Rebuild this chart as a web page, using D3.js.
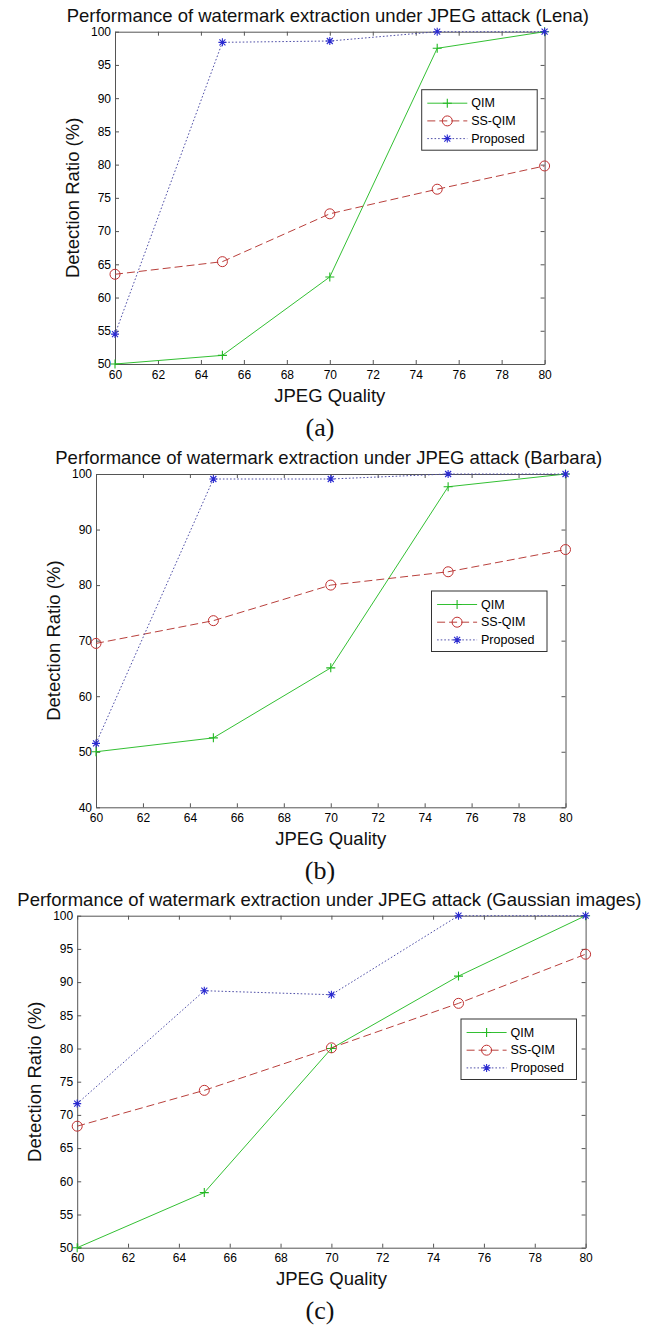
<!DOCTYPE html>
<html>
<head>
  <meta charset="utf-8">
  <script src="https://d3js.org/d3.v7.min.js"></script>
  <style>
    body { margin: 0; background: #ffffff; }
    svg { display: block; font-family: "Liberation Sans", Arial, sans-serif; }
    .tick text { font-size: 12px; fill: #000000; }
    .tick line, .domain { stroke: #555555; }
    .title, .axis_label { font-size: 18.5px; fill: #111111; }
    .panel_label { font-family: "Liberation Serif", "Times New Roman", serif; font-size: 26px; fill: #111111; }
    .legend_label { font-size: 12.5px; fill: #000000; }
  </style>
  <title>JPEG attack</title>
</head>
<body>
  <svg></svg>
  <script>
    // JPEG quality factors on the x axis
    const quality = [60, 65, 70, 75, 80]
    const xTicks = [60, 62, 64, 66, 68, 70, 72, 74, 76, 78, 80]

    // (a) Lena
    const qimLena = [50.0, 51.3, 63.1, 97.5, 100]
    const ssqimLena = [63.5, 65.4, 72.6, 76.3, 79.8]
    const proposedLena = [54.5, 98.4, 98.6, 100, 100]
    const yTicksLena = [50, 55, 60, 65, 70, 75, 80, 85, 90, 95, 100]

    // (b) Barbara
    const qimBarbara = [50.0, 52.5, 65.1, 97.7, 100]
    const ssqimBarbara = [69.5, 73.6, 80.0, 82.4, 86.4]
    const proposedBarbara = [51.5, 99.1, 99.1, 100, 100]
    const yTicksBarbara = [40, 50, 60, 70, 80, 90, 100]

    // (c) Gaussian images
    const qimGaussian = [50.0, 58.3, 80.0, 90.9, 100]
    const ssqimGaussian = [68.3, 73.7, 80.1, 86.8, 94.2]
    const proposedGaussian = [71.7, 88.7, 88.1, 100, 100]
    const yTicksGaussian = [50, 55, 60, 65, 70, 75, 80, 85, 90, 95, 100]

    const seriesNames = ["QIM", "SS-QIM", "Proposed"]

    const styles = [
      {color: "#33c033", markerColor: "#22b822", dash: null, marker: "plus"},
      {color: "#b9403c", markerColor: "#c03030", dash: "8,4", marker: "circle"},
      {color: "#5050a8", markerColor: "#2a2ad0", dash: "1.6,2", marker: "star"}
    ]

    const panels = [
      {
        title: "Performance of watermark extraction under JPEG attack (Lena)",
        label: "(a)",
        yDomain: [50, 100], yTicks: yTicksLena,
        series: [qimLena, ssqimLena, proposedLena],
        box: {left: 115, right: 544.6, top: 31.7, bottom: 364},
        legend: {x: 421.7, y: 89.7}
      },
      {
        title: "Performance of watermark extraction under JPEG attack (Barbara)",
        label: "(b)",
        yDomain: [40, 100], yTicks: yTicksBarbara,
        series: [qimBarbara, ssqimBarbara, proposedBarbara],
        box: {left: 96, right: 565.5, top: 474, bottom: 807.3},
        legend: {x: 431.5, y: 591}
      },
      {
        title: "Performance of watermark extraction under JPEG attack (Gaussian images)",
        label: "(c)",
        yDomain: [50, 100], yTicks: yTicksGaussian,
        series: [qimGaussian, ssqimGaussian, proposedGaussian],
        box: {left: 77.2, right: 585.6, top: 915.7, bottom: 1247.7},
        legend: {x: 461, y: 1019}
      }
    ]

    const svg = d3.select("svg")
      .attr("width", 651)
      .attr("height", 1326)

    function drawMarker(sel, type, color) {
      if (type === "circle") {
        sel.append("circle").attr("r", 5)
          .attr("fill", "none").attr("stroke", color).attr("stroke-width", 1)
      } else {
        const d = type === "plus"
          ? "M-4.5,0H4.5M0,-4.5V4.5"
          : "M-4,0H4M0,-4V4M-3,-3L3,3M-3,3L3,-3"
        sel.append("path").attr("d", d)
          .attr("fill", "none").attr("stroke", color).attr("stroke-width", 1.1)
      }
    }

    panels.forEach(p => {
      const b = p.box
      const x = d3.scaleLinear().domain([60, 80]).range([b.left, b.right])
      const y = d3.scaleLinear().domain(p.yDomain).range([b.bottom, b.top])
      const cx = (b.left + b.right) / 2

      const g = svg.append("g")

      g.append("g")
        .attr("transform", `translate(0,${b.bottom})`)
        .call(d3.axisBottom(x).tickValues(xTicks).tickSize(-4).tickSizeOuter(0).tickPadding(6))
      g.append("g")
        .attr("transform", `translate(${b.left},0)`)
        .call(d3.axisLeft(y).tickValues(p.yTicks).tickSize(-4).tickSizeOuter(0).tickPadding(4))
      g.append("g")
        .attr("transform", `translate(0,${b.top})`)
        .call(d3.axisTop(x).tickValues(xTicks).tickSize(-4).tickSizeOuter(0).tickFormat(""))
      g.append("g")
        .attr("transform", `translate(${b.right},0)`)
        .call(d3.axisRight(y).tickValues(p.yTicks).tickSize(-4).tickSizeOuter(0).tickFormat(""))

      // let the stylesheet pick the tick font
      g.selectAll("g").attr("font-family", null).attr("font-size", null)

      const line = d3.line().x(d => x(d[0])).y(d => y(d[1]))

      p.series.forEach((values, i) => {
        const s = styles[i]
        const pts = d3.zip(quality, values)
        g.append("path")
          .datum(pts)
          .attr("d", line)
          .attr("fill", "none")
          .attr("stroke", s.color)
          .attr("stroke-width", 1)
          .attr("stroke-dasharray", s.dash)

        g.selectAll(null)
          .data(pts)
          .enter()
          .append("g")
          .attr("transform", d => `translate(${x(d[0])},${y(d[1])})`)
          .each(function() { drawMarker(d3.select(this), s.marker, s.markerColor) })
      })

      g.append("text")
        .attr("class", "title")
        .attr("x", cx - 2)
        .attr("y", b.top - 16.5)
        .attr("text-anchor", "middle")
        .attr("dominant-baseline", "central")
        .text(p.title)

      g.append("text")
        .attr("class", "axis_label")
        .attr("x", cx)
        .attr("y", b.bottom + 31)
        .attr("text-anchor", "middle")
        .attr("dominant-baseline", "central")
        .text("JPEG Quality")

      g.append("text")
        .attr("class", "axis_label")
        .attr("transform", `translate(${b.left - 42.5},${(b.top + b.bottom) / 2}) rotate(-90)`)
        .attr("text-anchor", "middle")
        .attr("dominant-baseline", "central")
        .text("Detection Ratio (%)")

      g.append("text")
        .attr("class", "panel_label")
        .attr("x", 320)
        .attr("y", b.bottom + 63)
        .attr("text-anchor", "middle")
        .attr("dominant-baseline", "central")
        .text(p.label)

      // legend box
      const lg = g.append("g").attr("transform", `translate(${p.legend.x},${p.legend.y})`)
      lg.append("rect")
        .attr("width", 115.5)
        .attr("height", 60.5)
        .attr("fill", "#ffffff")
        .attr("stroke", "#333333")
        .attr("stroke-width", 1)

      const rows = lg.selectAll(".legend_row")
        .data(seriesNames)
        .enter()
        .append("g")
        .attr("class", "legend_row")
        .attr("transform", (d, i) => `translate(0,${13.5 + i * 17.7})`)

      rows.append("line")
        .attr("x1", 5.6)
        .attr("x2", 45.6)
        .attr("stroke", (d, i) => styles[i].color)
        .attr("stroke-dasharray", (d, i) => styles[i].dash)

      rows.append("g")
        .attr("transform", "translate(25.6,0)")
        .each(function(d, i) { drawMarker(d3.select(this), styles[i].marker, styles[i].markerColor) })

      rows.append("text")
        .attr("class", "legend_label")
        .attr("x", 49.5)
        .attr("dominant-baseline", "central")
        .text(d => d)
    })
  </script>
</body>
</html>
